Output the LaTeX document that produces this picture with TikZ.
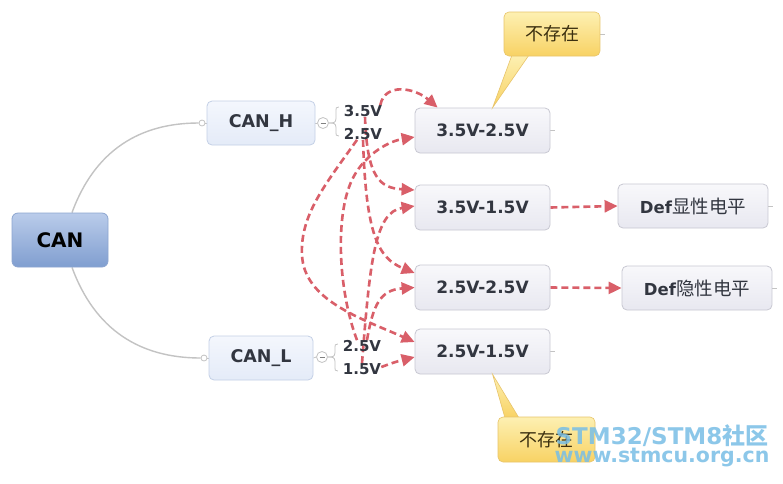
\documentclass[tikz,border=0pt]{standalone}
\usepackage{fontspec}
\setmainfont{DejaVu Sans}
\newfontfamily\cjk{Noto Sans CJK SC}
\usetikzlibrary{arrows.meta}
\pgfdeclarelayer{background}
\pgfsetlayers{background,main}
\definecolor{redln}{RGB}{217,95,105}
\definecolor{txt}{RGB}{50,54,64}
\definecolor{gln}{RGB}{195,195,195}
\definecolor{cantop}{RGB}{186,204,234}
\definecolor{canbot}{RGB}{128,158,208}
\definecolor{canbd}{RGB}{140,165,208}
\definecolor{subtop}{RGB}{244,247,253}
\definecolor{subbot}{RGB}{228,235,248}
\definecolor{subbd}{RGB}{196,208,230}
\definecolor{boxtop}{RGB}{248,248,251}
\definecolor{boxbot}{RGB}{232,232,240}
\definecolor{boxbd}{RGB}{200,200,210}
\definecolor{yeltop}{RGB}{253,240,178}
\definecolor{yelbot}{RGB}{248,210,100}
\definecolor{yelbd}{RGB}{232,196,106}
\definecolor{yeltxt}{RGB}{60,48,16}
\definecolor{wmark}{RGB}{120,190,230}
\begin{document}
\begin{tikzpicture}[x=1pt,y=-1pt,
  every node/.style={inner sep=0pt},
  rootbox/.style={draw=canbd, line width=0.8pt, rounded corners=6pt, top color=cantop, bottom color=canbot,
    minimum width=96pt, minimum height=54pt, font=\bfseries\fontsize{20}{22}\selectfont, text={RGB,255:red,30;green,40;blue,60}},
  subbox/.style={draw=subbd, line width=0.8pt, rounded corners=5pt, top color=subtop, bottom color=subbot,
    minimum height=44pt, font=\bfseries\fontsize{17.5}{19}\selectfont, text=txt},
  valbox/.style={draw=boxbd, line width=0.8pt, rounded corners=5pt, top color=boxtop, bottom color=boxbot,
    minimum width=135pt, minimum height=45pt, font=\bfseries\fontsize{17}{19}\selectfont, text=txt},
  defbox/.style={draw=boxbd, line width=0.8pt, rounded corners=5pt, top color=boxtop, bottom color=boxbot,
    minimum width=150pt, minimum height=44pt, font=\fontsize{16.5}{18}\selectfont, text=txt},
  callbox/.style={draw=yelbd, line width=0.6pt, rounded corners=5pt, top color=yeltop, bottom color=yelbot,
    minimum width=96pt, minimum height=44pt, font=\cjk\fontsize{18}{20}\selectfont, text=yeltxt},
  pointer/.style={draw=yelbd, line width=0.6pt, top color=yeltop, bottom color=yelbot},
  vlabel/.style={font=\bfseries\fontsize{15}{17}\selectfont, text=txt},
  knob/.style={circle, draw=gln, fill=white, line width=0.8pt, minimum size=6pt},
  minusknob/.style={circle, draw=gln, fill=white, line width=0.8pt, minimum size=11pt},
  gline/.style={draw=gln, line width=1.4pt},
  bline/.style={draw=gln, line width=0.8pt},
  rel/.style={draw=redln, line width=2.6pt, dash pattern=on 7pt off 4pt, -{Triangle[length=13pt,width=12pt]}},
  wm/.style={font=\bfseries\fontsize{23}{25}\selectfont, text=wmark, opacity=0.85}
]
\useasboundingbox (0,0) rectangle (783,483);

% main nodes
\node[rootbox] (can) at (60,240) {CAN};
\node[subbox, minimum width=108pt] (canh) at (261,123) {CAN\_H};
\node[subbox, minimum width=104pt] (canl) at (261,358) {CAN\_L};
\node[knob] (hc) at (202,123) {};
\node[knob] (lc) at (204,358) {};
\node[minusknob] (hm) at (323,123) {};
\node[minusknob] (lm) at (322,357) {};

\node[vlabel] (h35) at (363,111) {3.5V};
\node[vlabel] (h25) at (363,134) {2.5V};
\node[vlabel] (l25) at (362,346) {2.5V};
\node[vlabel] (l15) at (362,369) {1.5V};

\node[valbox] (b1) at (482.5,130.5) {3.5V-2.5V};
\node[valbox] (b2) at (482.5,207.5) {3.5V-1.5V};
\node[valbox] (b3) at (482.5,287.5) {2.5V-2.5V};
\node[valbox] (b4) at (482.5,351.5) {2.5V-1.5V};

\node[defbox] (d1) at (693,206) {\bfseries Def{\cjk\mdseries\fontsize{18.5}{20}\selectfont 显性电平}};
\node[defbox] (d2) at (697,288) {\bfseries Def{\cjk\mdseries\fontsize{18.5}{20}\selectfont 隐性电平}};

% callouts
\coordinate (t1) at ([xshift=78pt]b1.north west);
\coordinate (t2) at ([xshift=78pt]b4.south west);
\path[pointer] (t1) -- (512,55) -- (529,55) -- cycle;
\path[pointer] (t2) -- (505,418) -- (519,418) -- cycle;
\node[callbox] (c1) at (552,34) {不存在};
\node[callbox, minimum width=97pt, minimum height=45pt] (c2) at (546.5,439.5) {不存在};

% minus signs
\draw[draw=gray, line width=1pt] ([xshift=-2.5pt]hm.center) -- ([xshift=2.5pt]hm.center);
\draw[draw=gray, line width=1pt] ([xshift=-2.5pt]lm.center) -- ([xshift=2.5pt]lm.center);

\begin{pgfonlayer}{background}
\fill[white] (0,0) rectangle (783,483);
% gray tree connectors
\draw[gline] ([xshift=12pt]can.north) .. controls (95,150) and (140,123) .. (hc.west);
\draw[gline] ([xshift=12pt]can.south) .. controls (95,330) and (140,358) .. (lc.west);
\draw[bline] (hc.east) -- (canh.west);
\draw[bline] (lc.east) -- (canl.west);
\draw[bline] (canh.east) -- (hm.west);
\draw[bline] (canl.east) -- (lm.west);
% braces
\draw[bline] (hm.east) .. controls ++(4,0) and ++(0,4) .. ++(7,-4) -- ++(0,-8) .. controls ++(0,-3) and ++(-3,0) .. ++(3,-4);
\draw[bline] (hm.east) .. controls ++(4,0) and ++(0,-4) .. ++(7,4) -- ++(0,5) .. controls ++(0,3) and ++(-3,0) .. ++(3,4);
\draw[bline] (lm.east) .. controls ++(4,0) and ++(0,4) .. ++(7,-4) -- ++(0,-5) .. controls ++(0,-3) and ++(-3,0) .. ++(3,-4);
\draw[bline] (lm.east) .. controls ++(4,0) and ++(0,-4) .. ++(7,4) -- ++(0,6) .. controls ++(0,3) and ++(-3,0) .. ++(3,4);
% small stubs
\draw[bline] (b1.east) -- ++(5,0);
\draw[bline] (b4.east) -- ++(5,0);
\draw[bline] (d1.east) -- ++(5,0);
\draw[bline] (d2.east) -- ++(5,0);
\draw[bline] (c1.east) -- ++(5,0);

% red relation arrows
\draw[rel] ([xshift=-2pt]h35.north east) .. controls (385,82) and (415,88) .. ([xshift=23pt]b1.north west);
\draw[rel] ([xshift=2pt]h35.south) .. controls (367,178) and (380,188) .. ([yshift=17.5pt]b2.west);
\draw[rel] (h25.south) .. controls (366,235) and (378,258) .. ([yshift=14.5pt]b3.west);
\draw[rel] ([xshift=-6pt]h25.south) .. controls (325,185) and (300,215) .. (302,255) .. controls (304,300) and (360,318) .. ([yshift=9.5pt]b4.west);
\draw[rel] ([xshift=-5pt]l25.north) .. controls (338,290) and (335,215) .. (352,180) .. controls (362,158) and (385,142) .. ([yshift=-6.5pt]b1.west);
\draw[rel] ([xshift=5pt]l25.north) .. controls (373,305) and (380,290) .. (b3.west);
\draw[rel] (l15.north) .. controls (370,260) and (375,212) .. ([yshift=1.5pt]b2.west);
\draw[rel] ([yshift=2pt]l15.east) .. controls (395,362) .. ([yshift=-5.5pt]b4.west);
\draw[rel] (b2.east) -- (d1.west);
\draw[rel] (b3.east) -- (d2.west);
\end{pgfonlayer}

% watermark
\node[wm] (wm1) at (662,436) {STM32/STM8{\cjk 社区}};
\node[wm, font=\bfseries\fontsize{20.5}{23}\selectfont] (wm2) at (662,458) {www.stmcu.org.cn};
\end{tikzpicture}
\end{document}
